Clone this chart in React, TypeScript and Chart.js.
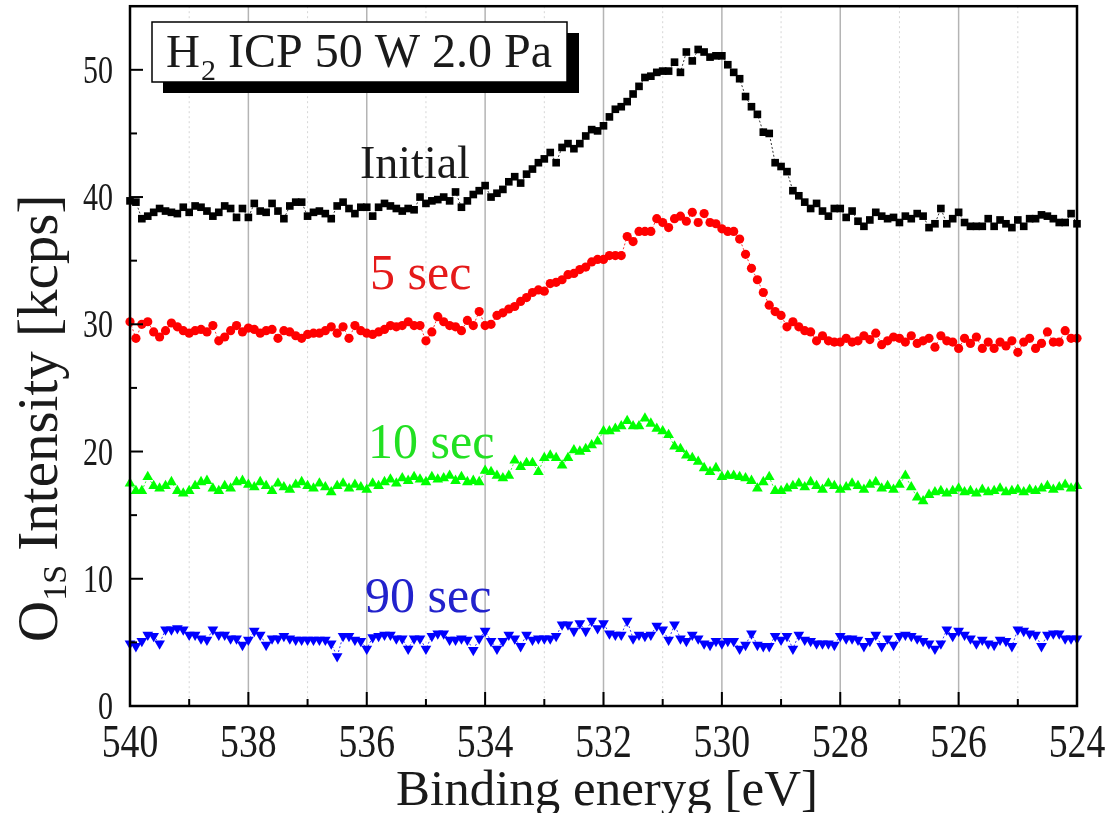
import React, { useEffect, useRef } from "react";
import { Chart, registerables } from "chart.js";

Chart.register(...registerables);

// Binding energy axis: 540 -> 524 eV, 0.1 eV step (161 channels)
const energies: number[] = Array.from({ length: 161 }, (_, i) => Math.round((540 - i * 0.1) * 10) / 10);

const xTickLabels = ["540", "538", "536", "534", "532", "530", "528", "526", "524"];
const yTickLabels = ["0", "10", "20", "30", "40", "50"];

const initialSeries: number[] = [
  39.7, 39.6, 38.3, 38.5, 38.8, 39.1, 38.9, 38.8, 38.7, 39.2,
  38.8, 39.3, 39.2, 38.9, 38.5, 38.8, 39.3, 39.1, 38.4, 39.1,
  38.4, 39.5, 38.9, 38.8, 39.5, 38.9, 38.3, 39.3, 39.6, 39.6,
  38.5, 38.8, 38.9, 38.7, 38.3, 39.3, 39.6, 39.1, 38.7, 39.2,
  39.2, 38.5, 39.2, 39.5, 39.3, 39.1, 38.9, 39.1, 39.0, 40.0,
  39.5, 39.7, 39.8, 40.0, 39.7, 40.4, 39.2, 39.7, 40.2, 40.5,
  40.9, 40.0, 40.3, 40.6, 41.2, 41.6, 41.1, 41.8, 42.2, 42.7,
  43.0, 43.5, 42.7, 43.9, 44.2, 43.8, 44.2, 44.8, 45.3, 45.2,
  45.6, 46.3, 46.9, 47.1, 47.5, 48.1, 48.7, 49.4, 49.5, 49.8,
  49.9, 49.9, 50.6, 49.8, 51.4, 50.7, 51.6, 51.4, 51.0, 51.1,
  51.1, 50.4, 49.8, 49.3, 47.9, 47.1, 46.5, 45.1, 45.0, 42.7,
  42.4, 42.0, 40.5, 40.1, 39.6, 39.1, 39.5, 38.9, 38.5, 39.1,
  39.1, 38.4, 38.9, 38.1, 37.7, 38.2, 38.8, 38.5, 38.3, 38.4,
  38.0, 38.5, 38.3, 38.7, 38.5, 37.6, 37.9, 39.1, 37.9, 38.3,
  38.8, 38.0, 37.7, 37.7, 37.7, 38.3, 37.7, 38.2, 37.9, 37.6,
  38.2, 37.7, 38.3, 38.3, 38.6, 38.5, 38.3, 38.0, 38.0, 38.7,
  37.9,
];

const sec5Series: number[] = [
  30.2, 28.9, 30.0, 30.2, 29.4, 29.0, 29.5, 30.1, 29.8, 29.5,
  29.3, 29.5, 29.6, 29.4, 29.9, 28.7, 29.0, 29.5, 29.9, 29.4,
  29.7, 29.6, 29.3, 29.5, 29.6, 28.9, 29.5, 29.4, 29.1, 28.9,
  29.2, 29.3, 29.3, 29.5, 29.8, 29.3, 29.8, 28.9, 29.9, 29.5,
  29.3, 29.2, 29.4, 29.6, 29.9, 29.8, 29.9, 30.2, 29.9, 29.9,
  28.7, 29.4, 30.6, 30.2, 29.9, 29.8, 29.5, 30.3, 29.9, 31.0,
  29.9, 30.0, 30.7, 30.9, 31.2, 31.4, 31.8, 32.1, 32.5, 32.7,
  32.6, 33.2, 33.3, 33.5, 33.9, 34.0, 34.3, 34.5, 34.9, 35.1,
  35.1, 35.4, 35.4, 35.4, 36.9, 36.5, 37.3, 37.3, 37.3, 38.3,
  38.0, 37.6, 38.3, 38.5, 38.1, 38.8, 38.0, 38.7, 38.0, 37.9,
  37.5, 37.3, 37.3, 36.7, 35.5, 34.4, 33.5, 32.5, 31.5, 31.0,
  30.7, 29.8, 30.2, 29.8, 29.5, 29.4, 28.7, 29.1, 28.7, 28.6,
  28.6, 28.9, 28.6, 28.7, 29.1, 28.8, 29.3, 28.4, 28.7, 29.0,
  28.9, 28.6, 29.1, 28.5, 28.7, 28.9, 28.2, 29.1, 28.7, 28.6,
  28.1, 28.9, 28.5, 29.0, 28.1, 28.6, 28.1, 28.6, 28.3, 28.7,
  27.8, 28.6, 28.9, 28.1, 28.5, 29.4, 28.6, 28.6, 29.5, 28.9,
  28.9,
];

const sec10Series: number[] = [
  17.5, 16.9, 16.9, 18.0, 17.3, 17.1, 17.3, 17.6, 16.9, 16.7,
  16.9, 17.3, 17.6, 17.7, 17.1, 16.9, 17.3, 17.1, 17.6, 17.7,
  17.4, 17.2, 17.6, 17.3, 16.9, 17.5, 17.2, 17.0, 17.4, 17.6,
  17.3, 17.1, 17.5, 17.2, 16.8, 17.3, 17.5, 17.1, 17.4, 17.2,
  17.0, 17.5, 17.3, 17.6, 17.8, 17.5, 17.9, 17.7, 18.0, 17.8,
  17.6, 18.0, 17.8, 17.9, 18.1, 17.7, 18.0, 17.6, 17.7, 17.6,
  18.5, 18.4, 18.1, 17.9, 18.1, 19.3, 18.8, 19.1, 19.1, 18.4,
  19.5, 19.7, 19.5, 18.9, 19.5, 20.1, 20.0, 20.2, 20.5, 20.8,
  21.6, 21.6, 21.8, 22.0, 22.4, 22.0, 22.0, 22.6, 22.2, 21.8,
  21.6, 21.3, 20.4, 20.2, 19.7, 19.5, 19.2, 18.7, 18.4, 18.7,
  18.0, 18.1, 18.1, 18.0, 17.9, 17.7, 17.1, 17.6, 18.0, 16.9,
  16.9, 17.1, 17.3, 17.5, 17.2, 17.6, 17.3, 17.0, 17.5, 17.3,
  17.0, 17.2, 17.5, 17.3, 17.0, 17.4, 17.6, 17.1, 17.3, 17.0,
  17.4, 18.1, 17.2, 16.4, 16.1, 16.6, 16.8, 16.9, 16.7, 16.9,
  17.1, 16.8, 16.9, 16.7, 17.0, 16.8, 16.9, 17.1, 16.8, 16.9,
  17.0, 16.8, 17.0, 16.9, 17.1, 17.3, 17.0, 17.2, 17.4, 17.1,
  17.3,
];

const sec90Series: number[] = [
  4.9, 4.7, 5.1, 5.6, 5.5, 4.9, 6.0, 6.0, 6.1, 6.0,
  5.6, 5.6, 5.3, 5.2, 6.0, 5.6, 5.6, 5.3, 5.3, 4.8,
  5.2, 5.9, 5.6, 4.8, 5.3, 5.3, 5.5, 5.3, 5.2, 5.2,
  5.2, 5.2, 5.2, 5.2, 4.9, 3.9, 5.5, 5.5, 5.2, 5.1,
  4.5, 5.4, 5.5, 5.6, 5.6, 5.3, 5.3, 4.5, 5.3, 5.3,
  4.5, 5.5, 5.7, 5.7, 5.2, 5.2, 5.3, 5.2, 4.4, 5.3,
  5.9, 5.1, 4.5, 5.1, 5.6, 5.3, 4.7, 5.6, 5.2, 5.3,
  5.3, 5.3, 5.5, 6.4, 6.4, 5.9, 6.5, 5.9, 6.7, 6.1,
  6.5, 5.7, 5.6, 5.6, 6.7, 5.3, 5.6, 5.5, 5.6, 6.3,
  6.0, 5.2, 6.4, 5.3, 5.1, 5.6, 5.3, 4.9, 4.8, 5.1,
  4.9, 5.1, 5.1, 4.5, 4.8, 5.7, 4.8, 4.7, 4.7, 5.5,
  5.2, 5.5, 4.5, 5.6, 5.2, 5.1, 4.9, 4.9, 4.9, 4.8,
  5.5, 5.3, 5.3, 5.2, 4.7, 5.1, 5.6, 4.7, 5.3, 4.8,
  5.5, 5.6, 5.5, 5.3, 5.1, 4.9, 4.5, 4.9, 6.0, 5.5,
  5.9, 5.6, 5.3, 4.9, 5.2, 4.9, 4.8, 5.2, 5.1, 4.7,
  6.0, 5.9, 5.7, 5.6, 4.7, 5.6, 5.7, 5.7, 5.3, 5.3,
  5.3,
];

const seriesNames = ["Initial", "5 sec", "10 sec", "90 sec"];

const FONT = "'Liberation Serif', 'Times New Roman', serif";

function toPoints(values: number[]) {
  return values.map((v, i) => ({ x: energies[i], y: v }));
}

function scaledText(ctx: CanvasRenderingContext2D, text: string, x: number, y: number, sx: number, align: CanvasTextAlign) {
  ctx.save();
  ctx.translate(x, y);
  ctx.scale(sx, 1);
  ctx.textAlign = align;
  ctx.textBaseline = "alphabetic";
  ctx.fillText(text, 0, 0);
  ctx.restore();
}

const decorPlugin = {
  id: "decor",
  beforeDatasetsDraw(chart: any) {
    const { ctx, chartArea, scales } = chart;
    const xs = scales.x;
    ctx.save();
    for (let v = 525; v <= 539; v++) {
      const px = xs.getPixelForValue(v);
      ctx.beginPath();
      if (v % 2 === 0) {
        ctx.strokeStyle = "#b4b4b4";
        ctx.lineWidth = 1.5;
        ctx.setLineDash([]);
      } else {
        ctx.strokeStyle = "#d6d6d6";
        ctx.lineWidth = 1;
        ctx.setLineDash([2, 3]);
      }
      ctx.moveTo(px, chartArea.top);
      ctx.lineTo(px, chartArea.bottom);
      ctx.stroke();
    }
    ctx.restore();
  },
  afterDatasetsDraw(chart: any) {
    const { ctx, chartArea, scales } = chart;
    const xs = scales.x;
    const ys = scales.y;
    const { left, right, top, bottom } = chartArea;
    ctx.save();
    ctx.setLineDash([]);
    ctx.strokeStyle = "#000";
    ctx.lineWidth = 2.5;
    ctx.strokeRect(left, top, right - left, bottom - top);
    ctx.lineWidth = 2;
    for (let v = 524; v <= 540; v++) {
      const px = xs.getPixelForValue(v);
      const len = v % 2 === 0 ? 14 : 7;
      ctx.beginPath();
      ctx.moveTo(px, bottom);
      ctx.lineTo(px, bottom - len);
      ctx.stroke();
    }
    for (let v = 0; v <= 50; v += 5) {
      const py = ys.getPixelForValue(v);
      const len = v % 10 === 0 ? 13 : 7;
      ctx.beginPath();
      ctx.moveTo(left, py);
      ctx.lineTo(left + len, py);
      ctx.stroke();
    }
    ctx.fillStyle = "#1a1a1a";
    ctx.font = `46px ${FONT}`;
    xTickLabels.forEach((t) => {
      const px = xs.getPixelForValue(Number(t));
      scaledText(ctx, t, px, 757, 0.82, "center");
    });
    ctx.font = `40px ${FONT}`;
    yTickLabels.forEach((t) => {
      const py = ys.getPixelForValue(Number(t));
      scaledText(ctx, t, 113, py + 13, 0.75, "right");
    });
    ctx.font = `51px ${FONT}`;
    ctx.textAlign = "center";
    ctx.textBaseline = "alphabetic";
    ctx.fillText("Binding eneryg [eV]", 607, 805);
    ctx.save();
    ctx.translate(57, 642);
    ctx.rotate(-Math.PI / 2);
    ctx.textAlign = "left";
    ctx.font = `57px ${FONT}`;
    ctx.fillText("O", 0, 0);
    let w = ctx.measureText("O").width;
    ctx.font = `34px ${FONT}`;
    ctx.fillText("1S", w, 9);
    w += ctx.measureText("1S").width;
    ctx.font = `57px ${FONT}`;
    ctx.fillText(" Intensity [kcps]", w, 0);
    ctx.restore();

    // annotation box with shadow
    ctx.fillStyle = "#000";
    ctx.fillRect(163, 33, 416, 60);
    ctx.fillStyle = "#fff";
    ctx.fillRect(152, 22, 415, 60);
    ctx.lineWidth = 1.5;
    ctx.strokeStyle = "#000";
    ctx.strokeRect(152, 22, 415, 60);
    ctx.fillStyle = "#1a1a1a";
    ctx.textAlign = "left";
    ctx.font = `47px ${FONT}`;
    ctx.fillText("H", 166, 67);
    let aw = 166 + ctx.measureText("H").width;
    ctx.font = `30px ${FONT}`;
    ctx.fillText("2", aw + 1, 80);
    aw += ctx.measureText("2").width + 1;
    ctx.font = `48px ${FONT}`;
    ctx.fillText(" ICP 50 W 2.0 Pa", aw, 67);

    // series labels
    ctx.font = `46px ${FONT}`;
    ctx.fillStyle = "#1a1a1a";
    ctx.fillText(seriesNames[0], 360, 178);
    ctx.font = `50px ${FONT}`;
    ctx.fillStyle = "#e51a1a";
    ctx.fillText(seriesNames[1], 370, 289);
    ctx.fillStyle = "#22e022";
    ctx.fillText(seriesNames[2], 368, 458);
    ctx.fillStyle = "#2222cc";
    ctx.fillText(seriesNames[3], 365, 612);
    ctx.restore();
  },
};

export default function App() {
  const canvasRef = useRef<HTMLCanvasElement | null>(null);

  useEffect(() => {
    const canvas = canvasRef.current;
    if (!canvas) return;
    const mk = (label: string, values: number[], color: string, style: any, radius: number, rotation = 0) => ({
      label,
      data: toPoints(values),
      borderColor: color,
      backgroundColor: color,
      borderWidth: 0.8,
      borderDash: [2, 2],
      pointStyle: style,
      pointRadius: radius,
      pointRotation: rotation,
      pointBackgroundColor: color,
      pointBorderColor: color,
      pointBorderWidth: 0,
      showLine: true,
      tension: 0,
      clip: false as any,
    });
    const chart = new Chart(canvas, {
      type: "line",
      data: {
        datasets: [
          mk(seriesNames[3], sec90Series, "#0000ff", "triangle", 6.2, 180),
          mk(seriesNames[2], sec10Series, "#00ff00", "triangle", 6.2),
          mk(seriesNames[1], sec5Series, "#ff0000", "circle", 4.6),
          mk(seriesNames[0], initialSeries, "#000000", "rect", 5.4),
        ] as any,
      },
      options: {
        animation: false,
        responsive: false,
        maintainAspectRatio: false,
        events: [],
        layout: { padding: { left: 130, right: 32, top: 6, bottom: 107 } },
        plugins: { legend: { display: false }, tooltip: { enabled: false } },
        scales: {
          x: { type: "linear", reverse: true, min: 524, max: 540, display: false },
          y: { type: "linear", min: 0, max: 55, display: false },
        },
      },
      plugins: [decorPlugin],
    });
    return () => chart.destroy();
  }, []);

  return (
    <div style={{ position: "absolute", left: 0, top: 0, width: 1109, height: 813, background: "#fff" }}>
      <canvas ref={canvasRef} width={1109} height={813} style={{ display: "block" }} />
    </div>
  );
}
